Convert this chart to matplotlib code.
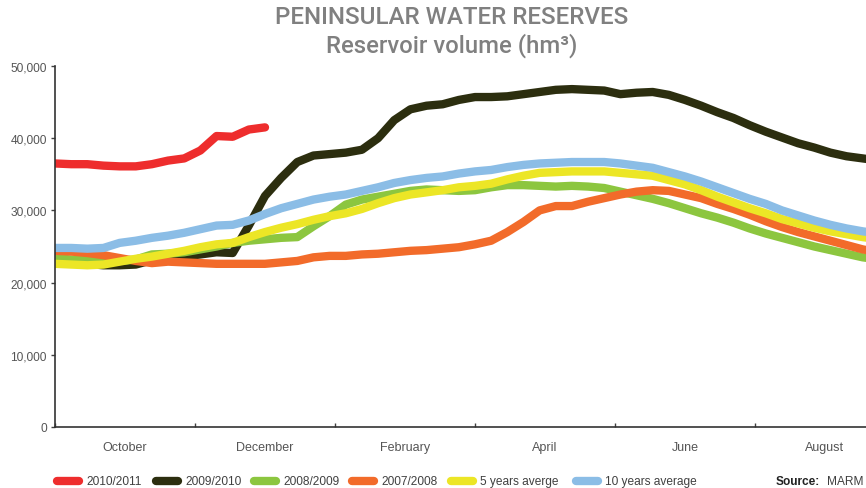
import matplotlib
matplotlib.use("Agg")
import matplotlib.pyplot as plt
from matplotlib.lines import Line2D

# ---------------- data (weekly, hydrological year starting October) ----------------
month_labels = ["October", "December", "February", "April", "June", "August"]
series_names = ["2010/2011", "2009/2010", "2008/2009", "2007/2008", "5 years averge", "10 years average"]
series_colors = ["#EE2D2D", "#2C2E0F", "#8CC63F", "#F26B2A", "#ECE626", "#8BBDE6"]

s2010_2011 = [36500, 36400, 36400, 36200, 36100, 36100, 36400, 36900, 37200, 38300,
              40300, 40200, 41200, 41500]

s2009_2010 = [23000, 22800, 22600, 22400, 22400, 22500, 23100, 23300, 23600, 23900,
              24200, 24100, 27900, 32000, 34500, 36700, 37600, 37800, 38000, 38400,
              40000, 42500, 44000, 44500, 44700, 45300, 45700, 45700, 45800, 46100,
              46400, 46700, 46800, 46700, 46600, 46100, 46300, 46400, 46000, 45300,
              44500, 43600, 42800, 41800, 40900, 40100, 39300, 38700, 38000, 37500,
              37200, 36900]

s2008_2009 = [23400, 23200, 23100, 22900, 23000, 23200, 23900, 24000, 24200, 24600,
              25000, 25500, 25800, 26000, 26200, 26300, 27800, 29200, 30800, 31500,
              31900, 32300, 32700, 32900, 32800, 32700, 32800, 33200, 33500, 33500,
              33400, 33300, 33400, 33300, 33100, 32600, 32100, 31600, 31000, 30300,
              29600, 29000, 28300, 27500, 26800, 26200, 25600, 25000, 24500, 24000,
              23500, 23200]

s2007_2008 = [24400, 24300, 24100, 23800, 23400, 23000, 22700, 22900, 22800, 22700,
              22600, 22600, 22600, 22600, 22800, 23000, 23500, 23700, 23700, 23900,
              24000, 24200, 24400, 24500, 24700, 24900, 25300, 25800, 27000, 28400,
              30000, 30600, 30600, 31200, 31700, 32200, 32600, 32800, 32700, 32200,
              31700, 30900, 30200, 29400, 28500, 27700, 27000, 26400, 25800, 25200,
              24600, 24200]

avg5 = [22600, 22500, 22400, 22500, 22900, 23300, 23600, 24000, 24400, 24900,
        25300, 25500, 26300, 27000, 27600, 28100, 28700, 29200, 29600, 30200,
        31000, 31700, 32200, 32500, 32800, 33200, 33400, 33700, 34300, 34800,
        35200, 35300, 35400, 35400, 35400, 35200, 35000, 34800, 34200, 33600,
        32800, 31900, 31100, 30300, 29600, 28800, 28200, 27600, 27100, 26700,
        26300, 26000]

avg10 = [24800, 24800, 24700, 24800, 25500, 25800, 26200, 26500, 26900, 27400,
         27900, 28000, 28600, 29500, 30300, 30900, 31500, 31900, 32200, 32700,
         33200, 33800, 34200, 34500, 34700, 35100, 35400, 35600, 36000, 36300,
         36500, 36600, 36700, 36700, 36700, 36500, 36200, 35900, 35300, 34700,
         34000, 33200, 32400, 31600, 30900, 30000, 29300, 28600, 28000, 27500,
         27100, 26800]

all_series = [s2010_2011, s2009_2010, s2008_2009, s2007_2008, avg5, avg10]

y_ticks = [0, 10000, 20000, 30000, 40000, 50000]

# ---------------- figure ----------------
W, H = 866, 489
fig = plt.figure(figsize=(W / 100, H / 100), dpi=100)
ax = fig.add_axes([55 / W, 1 - 428 / H, 1 - 55 / W, (428 - 67) / H])

font = ["Liberation Sans", "DejaVu Sans"]
title_font = ["Roboto", "Liberation Sans", "DejaVu Sans"]
weeks_per_block = 52 / 6.0

for vals, col in zip(all_series, series_colors):
    ax.plot(range(len(vals)), vals, color=col, lw=6,
            solid_capstyle="round", solid_joinstyle="round", clip_on=True)

ax.set_yticks(y_ticks)
ax.set_yticklabels([f"{v:,}" for v in y_ticks], fontfamily=font, fontsize=8.6, color="#555555")
ax.tick_params(axis="y", direction="out", length=3, width=1, color="#404040", pad=3)

bounds = [i * weeks_per_block for i in range(7)]
ax.set_xticks(bounds)
ax.set_xticklabels([])
ax.tick_params(axis="x", direction="in", length=3, width=1, color="#404040")
centers = [(i + 0.5) * weeks_per_block for i in range(len(month_labels))]
ax.set_xticks(centers, minor=True)
ax.set_xticklabels(month_labels, minor=True, fontfamily=font, fontsize=9, color="#555555")
ax.tick_params(axis="x", which="minor", length=0, pad=10)

ax.set_ylim(0, 50000)
ax.set_xlim(0, (866 - 55) / (840 / 52))

for s in ["top", "right"]:
    ax.spines[s].set_visible(False)
for s in ["left", "bottom"]:
    ax.spines[s].set_color("#333333")
    ax.spines[s].set_linewidth(1.2)

# ---------------- titles ----------------
fig.text(452 / W, 1 - 18 / H, "PENINSULAR WATER RESERVES", ha="center", va="center",
         fontsize=17.4, fontweight="medium", color="#808080", fontfamily=title_font)
fig.text(452 / W, 1 - 46 / H, "Reservoir volume (hm³)", ha="center", va="center",
         fontsize=17.2, fontweight="medium", color="#808080", fontfamily=title_font)

# ---------------- legend ----------------
pill_x = [53, 152, 250, 348, 447, 572]
ly = 1 - 482 / H
for name, col, px in zip(series_names, series_colors, pill_x):
    fig.add_artist(Line2D([(px + 4) / W, (px + 26) / W], [ly, ly], color=col, lw=6,
                          solid_capstyle="round", transform=fig.transFigure))
    fig.text((px + 33) / W, ly, name, ha="left", va="center", fontsize=8.6,
             color="#404040", fontfamily=font)

fig.text(776 / W, ly, "Source:", ha="left", va="center", fontsize=8.6,
         fontweight="bold", color="#222222", fontfamily=font)
fig.text(864 / W, ly, "MARM", ha="right", va="center", fontsize=8.6,
         color="#404040", fontfamily=font)

fig.savefig("out.png", dpi=100)
